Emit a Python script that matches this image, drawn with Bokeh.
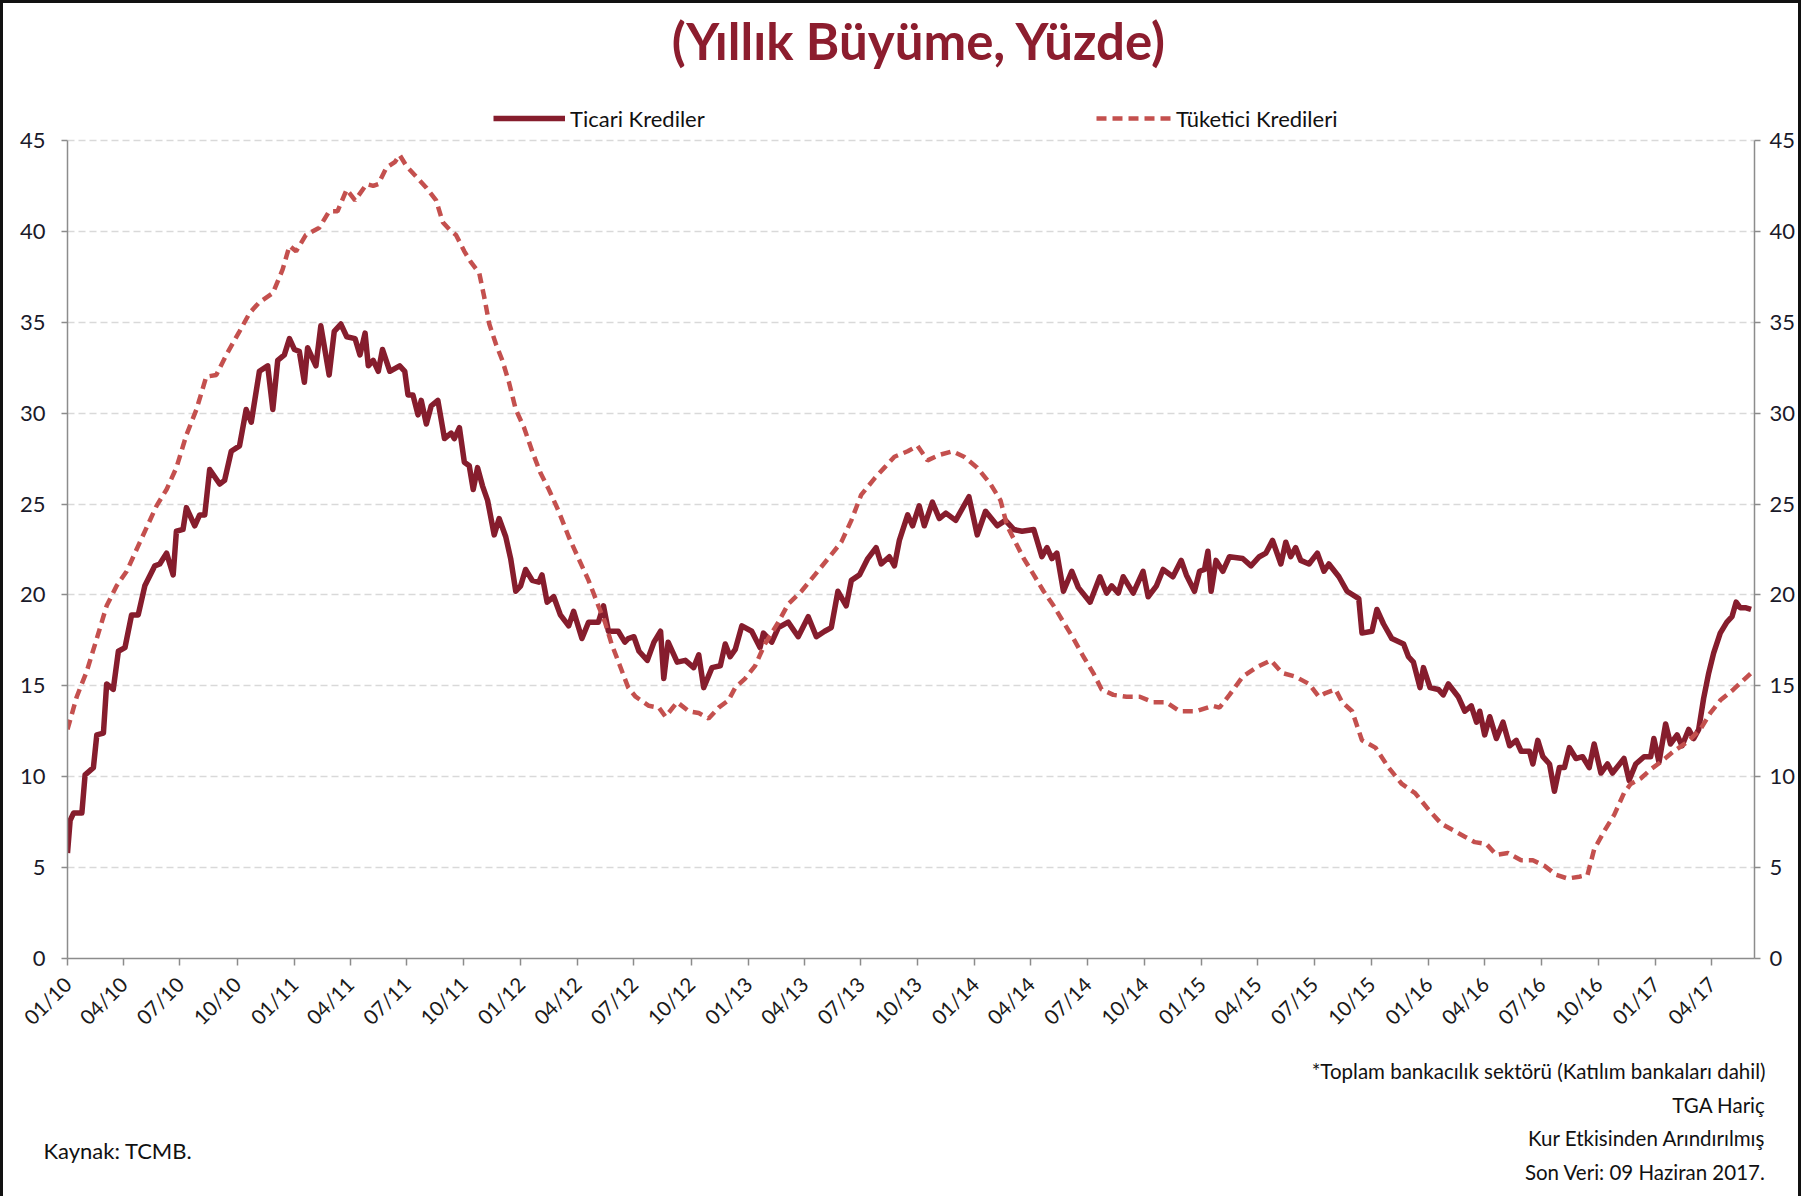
import math
import pandas as pd
from bokeh.plotting import figure
from bokeh.layouts import column
from bokeh.models import (Range1d, LinearAxis, FixedTicker, Legend, LegendItem,
                          CustomJSTickFormatter)
from bokeh.core.properties import value
from bokeh.embed import file_html
from bokeh.resources import INLINE

# ---- data (x = months since 1 Jan 2010, y = annual growth %) ----
ticari_month = [
    0.0, 0.14, 0.32, 0.76, 0.93, 1.37, 1.55, 1.90, 2.07, 2.42, 2.69, 3.04, 3.39, 3.74,
    4.09, 4.62, 4.88, 5.24, 5.59, 5.76, 6.11, 6.29, 6.73, 6.99, 7.26, 7.52, 8.05, 8.31,
    8.66, 9.10, 9.45, 9.72, 10.15, 10.59, 10.86, 11.12, 11.47, 11.74, 12.00, 12.26,
    12.53, 12.70, 13.14, 13.40, 13.84, 14.11, 14.46,
    14.77, 15.21, 15.47, 15.74, 15.91, 16.17, 16.44, 16.66, 17.05, 17.57, 17.84, 18.01,
    18.27, 18.54, 18.71, 18.98, 19.24, 19.59, 19.94, 20.29, 20.46, 20.73, 20.99, 21.25,
    21.46, 21.69, 21.95, 22.22, 22.57, 22.83, 23.18, 23.44, 23.71, 23.97, 24.23, 24.58,
    24.93, 25.10, 25.37, 25.72, 26.07, 26.51, 26.77, 27.21, 27.56, 28.08, 28.35, 28.61,
    29.13, 29.48, 29.66,
    29.96, 30.23, 30.67, 31.02, 31.37, 31.54, 31.77, 32.25, 32.68, 33.12, 33.39, 33.65,
    34.09, 34.53, 34.79, 35.05, 35.32, 35.67, 36.19, 36.63, 36.81, 37.25, 37.60, 38.12,
    38.65, 39.18, 39.61, 40.05, 40.40, 40.75, 41.19, 41.46, 41.89, 42.33, 42.77, 43.04,
    43.47, 43.74, 44.00, 44.44,
    44.70, 45.05, 45.32, 45.75, 46.11, 46.46, 46.98, 47.68, 48.12, 48.56, 49.18, 49.61,
    50.05, 50.49, 51.11, 51.54, 51.81, 52.07, 52.33, 52.68, 53.12, 53.47, 54.09, 54.61,
    54.96, 55.23, 55.58, 55.84, 56.37, 56.89, 57.16, 57.60, 57.95, 58.47, 58.91, 59.18,
    59.61, 59.88, 60.14, 60.32, 60.49, 60.75, 61.11, 61.46, 62.16, 62.60, 63.04, 63.39,
    63.74, 64.18, 64.44, 64.70, 64.96, 65.23, 65.67, 66.11, 66.46, 66.72, 67.25, 67.68,
    68.30, 68.47, 69.00, 69.26, 69.61, 70.05, 70.67, 70.93, 71.19, 71.54, 71.72, 72.07,
    72.51, 72.77, 73.04, 73.56, 73.91,
    74.25, 74.53, 74.70, 74.96, 75.23, 75.58, 75.93, 76.28, 76.63, 76.89, 77.33, 77.51,
    77.77, 78.04, 78.39, 78.65, 78.91, 79.18, 79.44, 79.79, 80.14, 80.49, 80.75, 81.11,
    81.46, 81.72, 82.33, 82.60, 82.95, 83.39, 83.74, 83.91, 84.18, 84.53, 84.79, 85.14,
    85.40, 85.75, 86.02, 86.28, 86.54, 86.81, 87.07, 87.42, 87.77, 88.04, 88.26, 88.47,
    88.74, 89.05,
]
ticari_value = [
    5.8, 7.6, 8.0, 8.0, 10.1, 10.5, 12.3, 12.4, 15.1, 14.8, 16.9, 17.1, 18.9, 18.9,
    20.5, 21.6, 21.7, 22.3, 21.1, 23.5, 23.6, 24.8, 23.8, 24.4, 24.4, 26.9, 26.1, 26.3,
    27.9, 28.2, 30.2, 29.5, 32.3, 32.6, 30.2, 32.9, 33.2, 34.1, 33.5, 33.4,
    31.7, 33.6, 32.6, 34.8, 32.1, 34.5, 34.9,
    34.2, 34.1, 33.2, 34.4, 32.6, 32.9, 32.3, 33.5, 32.3, 32.6, 32.3, 31.0,
    31.0, 29.9, 30.7, 29.4, 30.4, 30.7, 28.6, 28.9, 28.6, 29.2, 27.3, 27.1,
    25.8, 27.0, 26.0, 25.2, 23.3, 24.2, 23.2, 22.0, 20.2, 20.5, 21.4, 20.8,
    20.7, 21.1, 19.6, 19.9, 18.9, 18.3, 19.1, 17.6, 18.5, 18.5, 19.4, 18.0,
    18.0, 17.4, 17.6,
    17.7, 16.9, 16.4, 17.4, 18.0, 15.4, 17.4, 16.3, 16.4, 16.0, 16.7, 14.9,
    16.0, 16.1, 17.3, 16.6, 17.0, 18.3, 18.0, 17.1, 17.9, 17.4, 18.2, 18.5,
    17.7, 18.8, 17.7, 18.0, 18.2, 20.2, 19.4, 20.8, 21.1, 22.0, 22.6, 21.7,
    22.1, 21.6, 23.0, 24.4,
    23.8, 24.9, 23.8, 25.1, 24.2, 24.5, 24.1, 25.4, 23.3, 24.6, 23.8, 24.1,
    23.6, 23.5, 23.6, 22.1, 22.6, 22.0, 22.3, 20.2, 21.3, 20.4, 19.6, 21.0,
    20.1, 20.5, 20.1, 21.0, 20.1, 21.3, 19.9, 20.5, 21.4, 21.0, 21.9, 21.1,
    20.2, 21.3, 21.4, 22.4, 20.2, 21.9, 21.3, 22.1, 22.0, 21.6, 22.1, 22.3,
    23.0, 21.7, 22.9, 22.1, 22.6, 21.9, 21.7, 22.3, 21.3, 21.7, 21.0, 20.2,
    19.8, 17.9, 18.0, 19.2, 18.4, 17.6, 17.3, 16.6, 16.3, 14.9, 16.0, 14.9,
    14.8, 14.5, 15.1, 14.4, 13.6,
    13.9, 13.0, 13.6, 12.3, 13.3, 12.1, 13.0, 11.7, 12.0, 11.4, 11.4, 10.7,
    12.0, 11.1, 10.7, 9.2, 10.5, 10.5, 11.6, 11.0, 11.1, 10.5, 11.8, 10.2,
    10.7, 10.2, 11.0, 9.8, 10.7, 11.1, 11.1, 12.1, 10.8, 12.9, 11.8, 12.3,
    11.7, 12.6, 12.1, 12.6, 14.3, 15.7, 16.8, 17.9, 18.5, 18.8, 19.6, 19.3,
    19.3, 19.2,
]
tuketici_month = [
    0.0, 0.49, 1.02, 1.55, 2.07, 2.60, 3.13, 3.83, 4.27, 4.71, 5.24, 5.76, 6.29, 6.82,
    7.34, 7.87, 8.40, 9.10, 9.63, 10.15, 10.86, 11.38, 11.74, 12.09, 12.61, 13.32,
    13.84, 14.28,
    14.77, 15.21, 15.82, 16.17, 16.44, 16.87, 17.31, 17.57, 17.92, 18.45, 18.98, 19.50,
    19.85, 20.20, 20.55, 20.99, 21.34, 21.78, 22.04, 22.31, 22.66, 23.00, 23.35, 23.71,
    24.15, 24.58, 25.02, 25.46, 25.98, 26.51, 27.03, 27.56, 28.08, 28.43, 28.78, 29.22,
    29.66,
    30.05, 30.75, 31.28, 31.63, 32.25, 32.86, 33.39, 33.91, 34.44, 34.96, 35.32, 35.84,
    36.37, 36.89, 37.60, 38.12, 38.82, 39.53, 40.23, 40.93, 41.46, 41.98, 42.68, 43.21,
    43.74,
    44.44, 44.96, 45.49, 46.11, 46.81, 47.42, 48.12, 48.82, 49.35, 49.70, 50.14, 50.58,
    51.11, 51.63, 52.16, 52.68, 53.21, 53.74, 54.26, 54.70, 55.32, 56.02, 56.72, 57.42,
    58.12, 58.82,
    59.70, 60.58, 60.93, 61.46, 62.16, 62.86, 63.65, 64.26, 64.96, 65.67, 66.19, 66.54,
    67.07, 67.42, 67.95, 68.47, 69.18, 69.88, 70.58, 71.28, 71.98, 72.68, 73.39,
    73.91, 74.44, 75.05, 75.58, 76.19, 76.89, 77.51, 78.12, 78.74, 79.35, 79.96, 80.40,
    80.75, 81.28, 81.81, 82.33, 82.68, 83.21, 83.74, 84.26, 84.96, 85.67, 86.37, 86.89,
    87.42, 88.12, 89.05,
]
tuketici_value = [
    12.6, 14.4, 15.8, 17.6, 19.4, 20.5, 21.3, 22.9, 23.9, 24.9, 25.8, 27.0, 28.8, 30.2,
    32.0, 32.1, 33.2, 34.5, 35.5, 36.1, 36.6, 37.9, 39.2, 38.9, 39.8, 40.2,
    41.1, 41.1,
    42.3, 41.7, 42.6, 42.5, 42.6, 43.5, 43.8, 44.2, 43.6, 43.0, 42.4, 41.7,
    40.5, 40.1, 39.8, 38.9, 38.3, 37.7, 36.4, 34.9, 33.8, 32.9, 31.7, 30.2,
    29.2, 27.9, 26.7, 25.8, 24.6, 23.2, 22.0, 20.8, 19.4, 18.5, 17.3, 16.1,
    14.9,
    14.4, 13.9, 13.8, 13.3, 14.1, 13.6, 13.5, 13.2, 13.8, 14.2, 14.9, 15.4,
    16.1, 17.3, 18.5, 19.5, 20.2, 21.1, 22.0, 22.9, 24.1, 25.5, 26.4, 27.0,
    27.6,
    27.9, 28.2, 27.4, 27.7, 27.9, 27.6, 27.0, 26.1, 25.2, 23.8, 22.9, 22.0,
    21.1, 20.2, 19.4, 18.5, 17.6, 16.6, 15.7, 14.8, 14.5, 14.4, 14.4, 14.1,
    14.1, 13.6,
    13.6, 13.9, 13.8, 14.5, 15.5, 16.0, 16.4, 15.7, 15.5, 15.1, 14.4, 14.6,
    14.8, 14.1, 13.6, 12.0, 11.6, 10.5, 9.6, 9.1, 8.2, 7.4, 7.0,
    6.7, 6.4, 6.3, 5.7, 5.8, 5.4, 5.4, 5.1, 4.6, 4.4, 4.5, 4.6,
    6.0, 7.0, 7.9, 9.1, 9.6, 9.9, 10.4, 10.8, 11.4, 11.9, 12.6, 13.5,
    14.2, 14.8, 15.7,
]
tick_dates = [
    "2010-01-01", "2010-04-01", "2010-07-01", "2010-10-01",
    "2011-01-01", "2011-04-01", "2011-07-01", "2011-10-01",
    "2012-01-01", "2012-04-01", "2012-07-01", "2012-10-01",
    "2013-01-01", "2013-04-01", "2013-07-01", "2013-10-01",
    "2014-01-01", "2014-04-01", "2014-07-01", "2014-10-01",
    "2015-01-01", "2015-04-01", "2015-07-01", "2015-10-01",
    "2016-01-01", "2016-04-01", "2016-07-01", "2016-10-01",
    "2017-01-01", "2017-04-01",
]
tick_labels = [
    "01/10", "04/10", "07/10", "10/10", "01/11", "04/11", "07/11", "10/11",
    "01/12", "04/12", "07/12", "10/12", "01/13", "04/13", "07/13", "10/13",
    "01/14", "04/14", "07/14", "10/14", "01/15", "04/15", "07/15", "10/15",
    "01/16", "04/16", "07/16", "10/16", "01/17", "04/17",
]
y_ticks = [0, 5, 10, 15, 20, 25, 30, 35, 40, 45]
series_names = ["Ticari Krediler", "Tüketici Kredileri"]
title_text = "(Yıllık Büyüme, Yüzde)"
notes_right = [
    "*Toplam bankacılık sektörü (Katılım bankaları dahil)",
    "TGA Hariç",
    "Kur Etkisinden Arındırılmış",
    "Son Veri: 09 Haziran 2017.",
]
note_left = "Kaynak: TCMB."

# ---- helpers ----
BASE = pd.Timestamp("2010-01-01")


def month_to_ms(m):
    return (BASE + pd.Timedelta(days=m * 30.4375)).value / 1e6


def date_to_ms(s):
    return pd.Timestamp(s).value / 1e6


tx = [month_to_ms(m) for m in ticari_month]
ux = [month_to_ms(m) for m in tuketici_month]
tick_ms = [date_to_ms(d) for d in tick_dates]
x_start = date_to_ms("2010-01-01")
x_end = date_to_ms("2017-06-09")

DARK = "#861D2D"
LIGHT = "#C4504E"
AXIS = "#8C8C8C"
FONT = "Lato"
W = 1795
OX, OY = 3, 3                 # page position of the layout's content box
HH, HM, HF = 97, 940, 156     # header / main / footer heights
# page geometry of the main plotting area
FL, FR = 67, 1759             # frame left / right
Y45, Y0 = 140, 960            # page y of the 45 and 0 gridlines
FT = OY + HH + 2              # frame top (the legend row lives above the 45 line)
y_top = 45 + (Y45 - FT) * 45.0 / (Y0 - Y45)


def blank(h):
    f = figure(width=W, height=h, output_backend="svg", toolbar_location=None,
               x_range=Range1d(0, W), y_range=Range1d(h, 0),
               min_border=0, min_border_left=0, min_border_right=0,
               min_border_top=0, min_border_bottom=0)
    if "frame_align" in f.properties():
        f.frame_align = False
    f.axis.visible = False
    f.grid.visible = False
    f.outline_line_color = None
    f.background_fill_color = "white"
    f.border_fill_color = "white"
    return f


# ---- header: title ----
hdr = blank(HH)
hdr.text(x=[919 - OX], y=[40 - OY], text=[title_text], text_align="center",
         text_baseline="middle", text_font=value(FONT), text_font_style="bold",
         text_font_size="51px", text_color="#8C1D2E")

# ---- main chart ----
p = figure(width=W, height=HM, output_backend="svg", toolbar_location=None,
           x_range=Range1d(x_start, x_end), y_range=Range1d(0, y_top),
           min_border_left=FL - OX, min_border_right=OX + W - FR,
           min_border_top=FT - OY - HH, min_border_bottom=OY + HH + HM - Y0)
if "frame_align" in p.properties():
    p.frame_align = False
p.outline_line_color = None
p.background_fill_color = "white"
p.border_fill_color = "white"

p.xgrid.visible = False
p.ygrid.ticker = FixedTicker(ticks=y_ticks)
p.ygrid.grid_line_color = "#D9D9D9"
p.ygrid.grid_line_width = 1.3
p.ygrid.grid_line_dash = "7 4"

r1 = p.line(tx, ticari_value, line_color=DARK, line_width=5.5, line_join="round")
r2 = p.line(ux, tuketici_value, line_color=LIGHT, line_width=4.5, line_dash="10 6")

# legend row (above the 45 line, inside the plotting area)
LEG_CY = 123.5   # page y of the legend row centre
for rend, name, lx, gw in ((r1, series_names[0], 493, 72),
                           (r2, series_names[1], 1096, 75)):
    lg = Legend(items=[LegendItem(label=name, renderers=[rend])],
                location=(lx - FL, Y0 - (LEG_CY + 10)), orientation="horizontal",
                glyph_width=gw, glyph_height=20, label_standoff=5, padding=0,
                margin=0, border_line_color=None, background_fill_alpha=0,
                label_text_font=FONT, label_text_font_size="22px",
                label_text_color="#111111", label_height=20,
                label_text_baseline="middle")
    p.add_layout(lg, "center")

xa = p.xaxis[0]
xa.ticker = FixedTicker(ticks=tick_ms)
xa.formatter = CustomJSTickFormatter(args=dict(tms=tick_ms, labels=tick_labels), code="""
let best = 0, bd = Infinity;
for (let i = 0; i < tms.length; i++) { const d = Math.abs(tms[i] - tick); if (d < bd) { bd = d; best = i; } }
return labels[best];
""")
xa.major_label_orientation = math.pi / 4
xa.major_label_text_font = FONT
xa.major_label_text_font_size = "20.5px"
xa.major_label_text_color = "#1a1a1a"
xa.axis_line_color = AXIS
xa.axis_line_width = 1.5
xa.major_tick_line_color = AXIS
xa.major_tick_line_width = 1.5
xa.major_tick_out = 7
xa.major_tick_in = 0
xa.minor_tick_line_color = None
xa.major_label_standoff = 15

ya = p.yaxis[0]
yr = LinearAxis()
p.add_layout(yr, "right")
for ax in (ya, yr):
    ax.ticker = FixedTicker(ticks=y_ticks)
    ax.bounds = (0, 45)
    ax.major_label_text_font = FONT
    ax.major_label_text_font_size = "22px"
    ax.major_label_text_color = "#1a1a2a"
    ax.axis_line_color = AXIS
    ax.axis_line_width = 1.5
    ax.major_tick_line_color = AXIS
    ax.major_tick_line_width = 1.5
    ax.major_tick_out = 6
    ax.major_tick_in = 0
    ax.minor_tick_line_color = None
ya.major_label_standoff = 16
yr.major_label_standoff = 9

# ---- footer: notes ----
ftr = blank(HF)
F0 = OY + HH + HM          # page y of the footer's top
for t, yy in zip(notes_right, [1070, 1104, 1137, 1171]):
    ftr.text(x=[1765 - OX], y=[yy - F0], text=[t], text_align="right",
             text_baseline="middle", text_font=value(FONT),
             text_font_size="20.5px", text_color="#111111")
ftr.text(x=[43 - OX], y=[1150 - F0], text=[note_left], text_align="left",
         text_baseline="middle", text_font=value(FONT), text_font_size="22px",
         text_color="#111111")

layout = column(hdr, p, ftr, spacing=0)
layout.styles = {"border-left": "3px solid #111", "border-top": "3px solid #111",
                 "border-right": "3px solid #111", "box-sizing": "content-box"}

open("out.html", "w").write(file_html(layout, INLINE))
